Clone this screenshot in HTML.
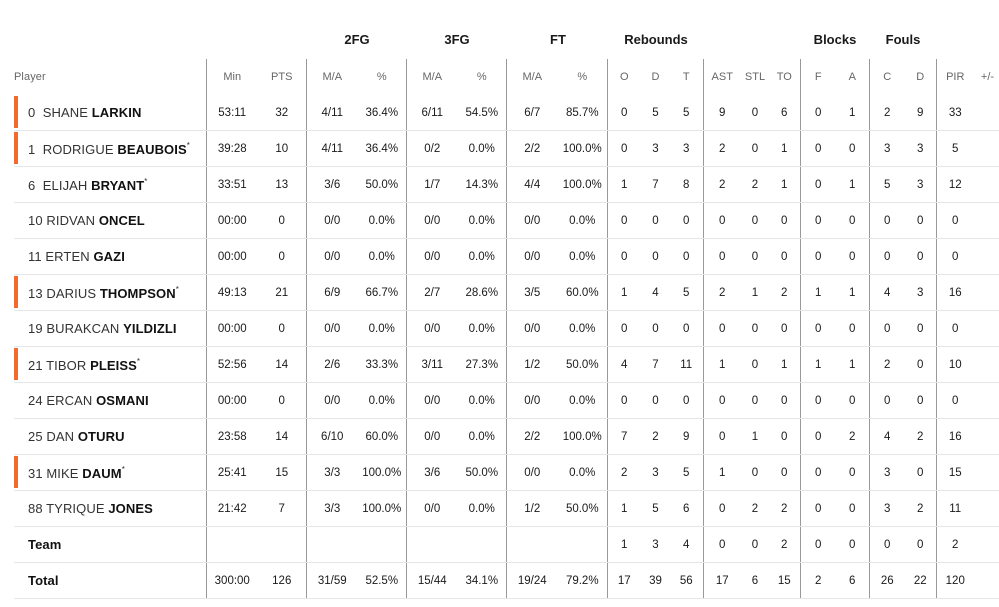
<!DOCTYPE html>
<html><head><meta charset="utf-8"><style>
body{margin:0;width:999px;height:607px;background:#fff;font-family:"Liberation Sans",sans-serif;color:#1a1a1a;overflow:hidden;position:relative}
.g{position:absolute;top:32px;font-size:13px;font-weight:bold;transform:translateX(-50%)}
table{position:absolute;left:14px;top:59px;border-collapse:collapse;table-layout:fixed;width:985px}
td{height:35px;padding:0;text-align:center;font-size:11.5px;border-bottom:1px solid #e6e6e6}
tr.h td{height:36px;color:#666;font-size:11px;border-bottom:none}
td.p{text-align:left;font-size:13px;padding-left:14px;position:relative;color:#333;letter-spacing:0.1px}
td.p b{color:#111}
tr.h td.p{font-size:11px;padding-left:0;color:#666}
.s{border-left:1px solid #999}
.bar:before{content:"";position:absolute;left:0;top:1px;bottom:2px;width:4px;background:#f26a2e}
sup{font-size:8px;vertical-align:6px}
</style></head><body>
<div class="g" style="left:357px">2FG</div>
<div class="g" style="left:457px">3FG</div>
<div class="g" style="left:558px">FT</div>
<div class="g" style="left:656px">Rebounds</div>
<div class="g" style="left:835px">Blocks</div>
<div class="g" style="left:903px">Fouls</div>
<table>
<colgroup><col style="width:192px"><col style="width:52px"><col style="width:48px"><col style="width:52px"><col style="width:48px"><col style="width:52px"><col style="width:48px"><col style="width:52px"><col style="width:49px"><col style="width:34px"><col style="width:29px"><col style="width:33px"><col style="width:38px"><col style="width:28px"><col style="width:31px"><col style="width:36px"><col style="width:33px"><col style="width:36px"><col style="width:31px"><col style="width:38px"><col style="width:27px"></colgroup>
<tr class="h"><td class="p">Player</td><td class="s">Min</td><td>PTS</td><td class="s">M/A</td><td>%</td><td class="s">M/A</td><td>%</td><td class="s">M/A</td><td>%</td><td class="s">O</td><td>D</td><td>T</td><td class="s">AST</td><td>STL</td><td>TO</td><td class="s">F</td><td>A</td><td class="s">C</td><td>D</td><td class="s">PIR</td><td>+/-</td></tr>
<tr><td class="p bar">0&nbsp; SHANE <b>LARKIN</b></td><td class="s">53:11</td><td>32</td><td class="s">4/11</td><td>36.4%</td><td class="s">6/11</td><td>54.5%</td><td class="s">6/7</td><td>85.7%</td><td class="s">0</td><td>5</td><td>5</td><td class="s">9</td><td>0</td><td>6</td><td class="s">0</td><td>1</td><td class="s">2</td><td>9</td><td class="s">33</td><td></td></tr>
<tr><td class="p bar">1&nbsp; RODRIGUE <b>BEAUBOIS</b><sup>*</sup></td><td class="s">39:28</td><td>10</td><td class="s">4/11</td><td>36.4%</td><td class="s">0/2</td><td>0.0%</td><td class="s">2/2</td><td>100.0%</td><td class="s">0</td><td>3</td><td>3</td><td class="s">2</td><td>0</td><td>1</td><td class="s">0</td><td>0</td><td class="s">3</td><td>3</td><td class="s">5</td><td></td></tr>
<tr><td class="p">6&nbsp; ELIJAH <b>BRYANT</b><sup>*</sup></td><td class="s">33:51</td><td>13</td><td class="s">3/6</td><td>50.0%</td><td class="s">1/7</td><td>14.3%</td><td class="s">4/4</td><td>100.0%</td><td class="s">1</td><td>7</td><td>8</td><td class="s">2</td><td>2</td><td>1</td><td class="s">0</td><td>1</td><td class="s">5</td><td>3</td><td class="s">12</td><td></td></tr>
<tr><td class="p">10 RIDVAN <b>ONCEL</b></td><td class="s">00:00</td><td>0</td><td class="s">0/0</td><td>0.0%</td><td class="s">0/0</td><td>0.0%</td><td class="s">0/0</td><td>0.0%</td><td class="s">0</td><td>0</td><td>0</td><td class="s">0</td><td>0</td><td>0</td><td class="s">0</td><td>0</td><td class="s">0</td><td>0</td><td class="s">0</td><td></td></tr>
<tr><td class="p">11 ERTEN <b>GAZI</b></td><td class="s">00:00</td><td>0</td><td class="s">0/0</td><td>0.0%</td><td class="s">0/0</td><td>0.0%</td><td class="s">0/0</td><td>0.0%</td><td class="s">0</td><td>0</td><td>0</td><td class="s">0</td><td>0</td><td>0</td><td class="s">0</td><td>0</td><td class="s">0</td><td>0</td><td class="s">0</td><td></td></tr>
<tr><td class="p bar">13 DARIUS <b>THOMPSON</b><sup>*</sup></td><td class="s">49:13</td><td>21</td><td class="s">6/9</td><td>66.7%</td><td class="s">2/7</td><td>28.6%</td><td class="s">3/5</td><td>60.0%</td><td class="s">1</td><td>4</td><td>5</td><td class="s">2</td><td>1</td><td>2</td><td class="s">1</td><td>1</td><td class="s">4</td><td>3</td><td class="s">16</td><td></td></tr>
<tr><td class="p">19 BURAKCAN <b>YILDIZLI</b></td><td class="s">00:00</td><td>0</td><td class="s">0/0</td><td>0.0%</td><td class="s">0/0</td><td>0.0%</td><td class="s">0/0</td><td>0.0%</td><td class="s">0</td><td>0</td><td>0</td><td class="s">0</td><td>0</td><td>0</td><td class="s">0</td><td>0</td><td class="s">0</td><td>0</td><td class="s">0</td><td></td></tr>
<tr><td class="p bar">21 TIBOR <b>PLEISS</b><sup>*</sup></td><td class="s">52:56</td><td>14</td><td class="s">2/6</td><td>33.3%</td><td class="s">3/11</td><td>27.3%</td><td class="s">1/2</td><td>50.0%</td><td class="s">4</td><td>7</td><td>11</td><td class="s">1</td><td>0</td><td>1</td><td class="s">1</td><td>1</td><td class="s">2</td><td>0</td><td class="s">10</td><td></td></tr>
<tr><td class="p">24 ERCAN <b>OSMANI</b></td><td class="s">00:00</td><td>0</td><td class="s">0/0</td><td>0.0%</td><td class="s">0/0</td><td>0.0%</td><td class="s">0/0</td><td>0.0%</td><td class="s">0</td><td>0</td><td>0</td><td class="s">0</td><td>0</td><td>0</td><td class="s">0</td><td>0</td><td class="s">0</td><td>0</td><td class="s">0</td><td></td></tr>
<tr><td class="p">25 DAN <b>OTURU</b></td><td class="s">23:58</td><td>14</td><td class="s">6/10</td><td>60.0%</td><td class="s">0/0</td><td>0.0%</td><td class="s">2/2</td><td>100.0%</td><td class="s">7</td><td>2</td><td>9</td><td class="s">0</td><td>1</td><td>0</td><td class="s">0</td><td>2</td><td class="s">4</td><td>2</td><td class="s">16</td><td></td></tr>
<tr><td class="p bar">31 MIKE <b>DAUM</b><sup>*</sup></td><td class="s">25:41</td><td>15</td><td class="s">3/3</td><td>100.0%</td><td class="s">3/6</td><td>50.0%</td><td class="s">0/0</td><td>0.0%</td><td class="s">2</td><td>3</td><td>5</td><td class="s">1</td><td>0</td><td>0</td><td class="s">0</td><td>0</td><td class="s">3</td><td>0</td><td class="s">15</td><td></td></tr>
<tr><td class="p">88 TYRIQUE <b>JONES</b></td><td class="s">21:42</td><td>7</td><td class="s">3/3</td><td>100.0%</td><td class="s">0/0</td><td>0.0%</td><td class="s">1/2</td><td>50.0%</td><td class="s">1</td><td>5</td><td>6</td><td class="s">0</td><td>2</td><td>2</td><td class="s">0</td><td>0</td><td class="s">3</td><td>2</td><td class="s">11</td><td></td></tr>
<tr><td class="p"><b>Team</b></td><td class="s"></td><td></td><td class="s"></td><td></td><td class="s"></td><td></td><td class="s"></td><td></td><td class="s">1</td><td>3</td><td>4</td><td class="s">0</td><td>0</td><td>2</td><td class="s">0</td><td>0</td><td class="s">0</td><td>0</td><td class="s">2</td><td></td></tr>
<tr><td class="p"><b>Total</b></td><td class="s">300:00</td><td>126</td><td class="s">31/59</td><td>52.5%</td><td class="s">15/44</td><td>34.1%</td><td class="s">19/24</td><td>79.2%</td><td class="s">17</td><td>39</td><td>56</td><td class="s">17</td><td>6</td><td>15</td><td class="s">2</td><td>6</td><td class="s">26</td><td>22</td><td class="s">120</td><td></td></tr>
</table>
</body></html>
